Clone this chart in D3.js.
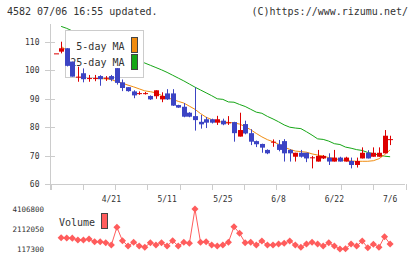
<!DOCTYPE html>
<html lang="en">
<head>
<meta charset="UTF-8">
<title>4582 chart</title>
<script src="https://cdn.jsdelivr.net/npm/d3@7"></script>
<style>
    body { margin: 0; background: #fff; }
    text { font-family: "DejaVu Sans Mono", monospace; fill: #333; }
    .axis path { display: none; }
    .axis line { stroke: #ccc; shape-rendering: crispEdges; }
    .axis text { font-size: 8px; }
</style>
</head>
<body>
<script>
    // trading days shown (2020)
    const dates = ["4/7","4/8","4/9","4/10","4/13","4/14","4/15","4/16","4/17","4/20",
        "4/21","4/22","4/23","4/24","4/27","4/28","4/30","5/1","5/7","5/8",
        "5/11","5/12","5/13","5/14","5/15","5/18","5/19","5/20","5/21","5/22",
        "5/25","5/26","5/27","5/28","5/29","6/1","6/2","6/3","6/4","6/5",
        "6/8","6/9","6/10","6/11","6/12","6/15","6/16","6/17","6/18","6/19",
        "6/22","6/23","6/24","6/25","6/26","6/29","6/30","7/1","7/2","7/3","7/6"];
    const dateLabels = ["4/21", "5/11", "5/25", "6/8", "6/22", "7/6"];

    const open  = [106.0,106.6,107.8,103.1,97.6,99.0,97.1,97.1,98.0,97.2,
        98.0,100.8,95.8,94.1,92.6,91.8,91.8,91.0,90.9,89.8,
        91.9,91.9,87.8,87.2,85.1,83.9,81.9,82.8,82.8,81.6,
        82.3,81.5,81.8,76.7,81.1,77.9,75.1,74.1,72.0,74.7,
        74.0,75.1,72.0,69.6,71.0,71.0,69.2,67.9,69.0,69.3,
        67.9,69.3,67.9,68.1,66.7,69.0,71.0,69.6,69.6,70.8,75.6];
    const high  = [106.0,110.1,107.8,103.1,101.3,100.7,98.4,98.4,98.3,98.0,
        98.4,100.8,96.8,94.1,93.0,92.6,92.4,91.2,93.0,92.3,
        93.4,93.4,87.9,88.5,85.3,94.0,84.3,83.6,83.0,84.0,
        83.0,83.9,81.9,85.1,82.3,79.3,75.3,74.2,72.2,75.7,
        75.5,75.8,72.2,71.0,72.0,71.0,69.9,72.0,70.2,70.8,
        72.0,69.6,69.6,69.3,69.3,72.9,71.9,72.9,72.9,79.0,77.0];
    const low   = [106.0,106.0,101.4,97.8,96.0,95.8,96.0,96.2,94.6,96.3,
        96.2,95.0,92.7,92.5,90.2,91.4,91.5,89.6,90.0,88.8,
        89.6,87.5,86.8,83.5,83.5,78.8,79.5,79.7,81.3,80.8,
        80.7,80.8,74.9,76.7,77.5,73.7,73.0,71.0,70.5,73.1,
        71.5,67.9,67.9,67.9,69.3,67.7,65.5,67.9,68.8,66.7,
        67.9,67.9,67.9,65.5,65.8,69.0,69.0,69.6,69.6,70.8,73.7];
    const close = [106.0,107.8,101.6,97.8,97.8,96.9,97.3,97.3,96.9,97.4,
        96.8,95.6,93.8,92.7,91.2,92.0,92.0,89.8,93.0,91.0,
        89.8,87.6,86.9,83.7,83.7,82.5,81.0,81.6,81.6,82.8,
        81.0,81.7,77.9,79.0,77.8,74.9,74.0,72.8,70.8,74.9,
        72.0,70.8,70.8,71.0,69.6,69.0,69.4,69.9,69.9,67.9,
        69.3,67.9,69.3,66.7,68.1,71.0,69.0,71.0,71.0,77.0,75.8];

    const ma5 = [null,108.5,107.0,104.5,102.5,100.5,98.5,97.5,97.2,97.0,
        96.8,96.0,95.5,94.8,94.2,93.5,92.8,92.5,92.1,91.2,
        90.4,89.8,89.1,88.5,87.4,86.3,84.8,83.5,82.7,82.0,
        81.8,81.7,81.5,81.1,80.2,79.1,77.8,76.6,75.6,74.9,
        74.0,73.0,72.2,71.6,71.4,71.2,70.6,70.2,69.8,69.3,
        69.0,68.5,68.3,68.1,68.0,68.0,68.0,68.2,68.9,70.3,72.0];
    const ma25 = [null,115.5,114.8,113.9,113.0,112.1,111.2,110.3,109.4,108.5,
        107.6,106.7,105.9,105.0,104.2,103.4,102.6,101.8,101.0,100.2,
        99.3,98.3,97.3,96.3,95.2,94.1,93.1,92.1,91.1,90.0,
        89.8,88.9,88.8,88.0,87.3,86.3,85.3,84.9,83.8,82.9,
        81.9,80.8,80.0,79.7,79.5,78.4,77.2,75.9,75.7,75.1,
        74.2,73.9,73.0,72.6,72.1,71.8,71.1,70.7,70.2,69.8,69.6];

    const volume = [null,1244000,1215000,1200000,1015000,1015000,1115000,845000,845000,746000,
        516000,2282000,945000,417000,786000,417000,287000,746000,516000,746000,
        417000,945000,417000,786000,686000,4106800,786000,845000,516000,417000,
        516000,786000,2341000,1683000,746000,786000,516000,915000,516000,516000,
        616000,686000,915000,516000,287000,616000,786000,616000,417000,746000,
        417000,117300,150000,616000,417000,915000,250000,586000,287000,1344000,616000];
    const volTicks = [117300, 2112050, 4106800];
    const priceTicks = [60, 70, 80, 90, 100, 110];

    const w = 420, h = 259;
    const up = "#dd0000", down = "#3c44c4";
    const orange = "#f08c10", green = "#16a616", volColor = "#ff5c5c";

    const svg = d3.select("body").append("svg")
        .attr("width", w).attr("height", h);

    const idx = d3.range(dates.length);
    const x = d3.scaleLinear().domain([-1, 62.67]).range([50, 405]);
    const y = d3.scaleLinear().domain([60, 110]).range([184, 42]);
    const vy = d3.scaleLinear().domain([117300, 4106800]).range([249, 209]);

    // header
    svg.append("text").attr("x", 7).attr("y", 15)
        .style("font-size", "10px").text("4582 07/06 16:55 updated.");
    svg.append("text").attr("x", 408).attr("y", 15).attr("text-anchor", "end")
        .style("font-size", "10px").text("(C)https://www.rizumu.net/");

    // axes
    svg.append("line").attr("x1", 50.5).attr("x2", 50.5).attr("y1", 24).attr("y2", 190)
        .attr("stroke", "#ccc");
    svg.append("line").attr("x1", 50).attr("x2", 405).attr("y1", 184.5).attr("y2", 184.5)
        .attr("stroke", "#ccc");

    const yAxis = d3.axisLeft(y).tickValues(priceTicks).tickSize(6).tickPadding(5);
    const gy = svg.append("g").attr("class", "axis")
        .attr("transform", "translate(50.5,0)")
        .call(yAxis);
    gy.selectAll(".tick line").attr("x1", 4);

    const gridX = d3.scaleLinear().domain([0, 11]).range([50, 405]);
    svg.append("g").attr("class", "axis")
        .attr("transform", "translate(0.5,184)")
        .call(d3.axisBottom(gridX).tickValues(d3.range(12)).tickSize(6).tickFormat(""));

    svg.selectAll(".date").data(dateLabels).enter().append("text")
        .attr("class", "date")
        .attr("x", d => x(dates.indexOf(d)))
        .attr("y", 202)
        .attr("text-anchor", "middle")
        .style("font-size", "8px")
        .text(d => d);

    // moving averages
    const maLine = arr => d3.line()
        .defined(i => arr[i] != null)
        .x(i => x(i)).y(i => y(arr[i]));
    svg.append("path").datum(idx).attr("d", maLine(ma25))
        .attr("fill", "none").attr("stroke", green).attr("stroke-width", 1);
    svg.append("path").datum(idx).attr("d", maLine(ma5))
        .attr("fill", "none").attr("stroke", orange).attr("stroke-width", 1);

    // legend
    const lg = svg.append("g");
    lg.append("rect").attr("x", 65.5).attr("y", 30.5).attr("width", 78).attr("height", 47)
        .attr("fill", "#fff").attr("stroke", "#ccc");
    lg.append("text").attr("x", 124.5).attr("y", 49.5).attr("text-anchor", "end")
        .style("font-size", "10px").text("5-day MA");
    lg.append("text").attr("x", 124.5).attr("y", 66).attr("text-anchor", "end")
        .style("font-size", "10px").text("25-day MA");
    lg.append("rect").attr("x", 131.5).attr("y", 37.5).attr("width", 6).attr("height", 15)
        .attr("fill", orange).attr("stroke", "#444");
    lg.append("rect").attr("x", 131.5).attr("y", 54.5).attr("width", 6).attr("height", 15)
        .attr("fill", green).attr("stroke", "#444");

    // candles
    const candles = svg.selectAll(".candle").data(idx).enter().append("g")
        .attr("class", "candle");
    const col = i => close[i] >= open[i] ? up : down;
    candles.append("line")
        .attr("x1", i => Math.round(x(i)) + 0.5).attr("x2", i => Math.round(x(i)) + 0.5)
        .attr("y1", i => y(high[i])).attr("y2", i => y(low[i]))
        .attr("stroke", col);
    candles.append("rect")
        .attr("x", i => Math.round(x(i)) - 2)
        .attr("width", 5)
        .attr("y", i => y(Math.max(open[i], close[i])))
        .attr("height", i => Math.max(1, Math.abs(y(open[i]) - y(close[i]))))
        .attr("fill", col);

    // volume
    const vAxis = d3.axisLeft(vy).tickValues(volTicks).tickSize(0).tickPadding(4)
        .tickFormat(d3.format("d"));
    const gv = svg.append("g").attr("class", "axis")
        .attr("transform", "translate(48,0)")
        .call(vAxis);
    gv.selectAll("text").style("font-size", "7.5px");

    svg.append("text").attr("x", 59).attr("y", 226)
        .style("font-size", "10px").text("Volume");
    svg.append("rect").attr("x", 101.5).attr("y", 213.5).attr("width", 6).attr("height", 15)
        .attr("fill", volColor).attr("stroke", "#444");

    const vIdx = idx.filter(i => volume[i] != null);
    svg.append("path").datum(vIdx)
        .attr("d", d3.line().x(i => x(i)).y(i => vy(volume[i])))
        .attr("fill", "none").attr("stroke", volColor).attr("stroke-width", 1);
    svg.selectAll(".vdot").data(vIdx).enter().append("path")
        .attr("class", "vdot")
        .attr("d", d3.symbol(d3.symbolSquare, 25))
        .attr("transform", i => "translate(" + x(i) + "," + vy(volume[i]) + ") rotate(45)")
        .attr("fill", volColor);
</script>
</body>
</html>
